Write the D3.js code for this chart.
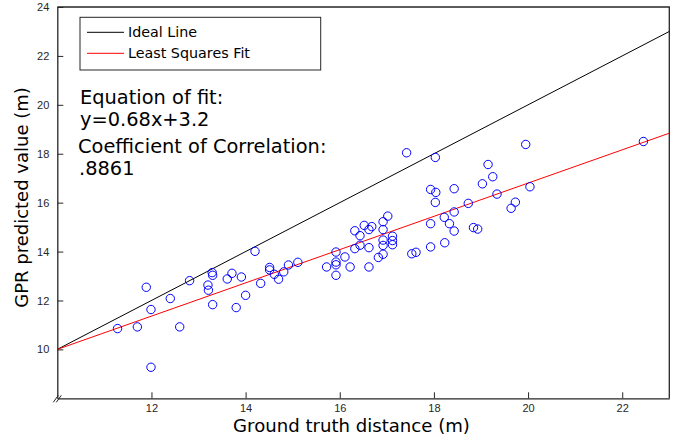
<!DOCTYPE html>
<html>
<head>
<meta charset="utf-8">
<script src="https://cdn.jsdelivr.net/npm/d3@7"></script>
<style>
  body { margin: 0; background: #fff; }
  svg { display: block; }
</style>
</head>
<body>
<svg id="chart" width="682" height="443"></svg>
<script>
// GPR predicted value vs ground truth distance

const groundTruth = [
  11.28, 11.70, 11.89, 11.99, 11.99, 12.40, 12.60, 12.81, 13.20, 13.21,
  13.29, 13.30, 13.30, 13.61, 13.71, 13.80, 13.91, 14.00, 14.20, 14.32,
  14.51, 14.51, 14.61, 14.70, 14.81, 14.91, 15.11, 15.72, 15.92, 15.92,
  15.92, 15.92, 16.11, 16.22, 16.32, 16.32, 16.43, 16.43, 16.52, 16.62,
  16.62, 16.62, 16.68, 16.82, 16.92, 16.92, 16.92, 16.92, 16.92, 17.02,
  17.12, 17.12, 17.12, 17.42, 17.53, 17.62, 17.93, 17.93, 17.93, 18.03,
  18.04, 18.03, 18.22, 18.23, 18.33, 18.43, 18.43, 18.43, 18.73, 18.84,
  18.93, 19.03, 19.15, 19.25, 19.34, 19.64, 19.73, 19.95, 20.04, 22.45
];
const gprPredicted = [
  10.85, 10.92, 12.54, 11.63, 9.27, 12.08, 10.92, 12.81, 12.63, 12.42,
  13.14, 13.03, 11.83, 12.88, 13.11, 11.71, 12.96, 12.21, 14.01, 12.70,
  13.35, 13.25, 13.07, 12.87, 13.17, 13.45, 13.56, 13.37, 13.98, 13.57,
  13.46, 13.03, 13.78, 13.37, 14.85, 14.12, 14.65, 14.26, 15.07, 14.90,
  14.16, 13.37, 15.02, 13.76, 13.89, 14.25, 14.47, 14.90, 15.22, 15.45,
  14.63, 14.45, 14.28, 18.04, 13.91, 13.97, 16.54, 15.14, 14.19, 17.85,
  16.42, 16.01, 15.40, 14.36, 15.14, 16.57, 15.62, 14.84, 15.97, 14.98,
  14.92, 16.77, 17.56, 17.06, 16.35, 15.77, 16.02, 18.38, 16.65, 18.50
];

const fitSlope = 0.68;
const fitIntercept = 3.2;
const xTicks = [12, 14, 16, 18, 20, 22];
const yTicks = [10, 12, 14, 16, 18, 20, 22, 24];
const legendLabels = ["Ideal Line", "Least Squares Fit"];
const legendColors = ["#000000", "#ff0000"];
const noteLines = ["Equation of fit:", "y=0.68x+3.2", "Coefficient of Correlation:", ".8861"];

const LEFT = 57.3, RIGHT = 669.3, TOP = 7, BOTTOM = 398.3;

const svg = d3.select("#chart");

let x = d3.scaleLinear().domain([10, 23]).range([LEFT, RIGHT]);
let y = d3.scaleLinear().domain([8, 24]).range([BOTTOM, TOP]);

// box (top + right borders)
svg.append("path")
  .attr("d", `M${LEFT},${TOP}H${RIGHT}V${BOTTOM}`)
  .attr("fill", "none")
  .attr("stroke", "#262626")
  .attr("stroke-width", 1.3);

// axes, ticks pointing inward
let xAxis = svg.append("g")
  .attr("transform", `translate(0,${BOTTOM})`)
  .call(d3.axisBottom(x).tickValues(xTicks).tickSize(-6).tickSizeOuter(0).tickPadding(6));
let yAxis = svg.append("g")
  .attr("transform", `translate(${LEFT},0)`)
  .call(d3.axisLeft(y).tickValues(yTicks).tickSize(-6).tickSizeOuter(0).tickPadding(8));

[xAxis, yAxis].forEach(function (g) {
  g.select(".domain").attr("stroke", "#262626").attr("stroke-width", 1.3);
  g.selectAll(".tick line").attr("stroke", "#262626");
  g.selectAll(".tick text")
    .attr("fill", "#262626")
    .style("font-family", "'Liberation Sans', Arial, sans-serif")
    .style("font-size", "11px");
});

// axis break mark at the origin
[0, 3].forEach(function (off) {
  svg.append("line")
    .attr("x1", LEFT - 4 + off).attr("y1", BOTTOM + 4)
    .attr("x2", LEFT + 1 + off).attr("y2", BOTTOM - 3)
    .attr("stroke", "#262626").attr("stroke-width", 1);
});

// ideal line y = x and least squares fit
let line = d3.line().x(d => x(d[0])).y(d => y(d[1]));
let ends = x.domain();
svg.append("path")
  .datum(ends.map(v => [v, v]))
  .attr("d", line)
  .attr("fill", "none")
  .attr("stroke", legendColors[0])
  .attr("stroke-width", 1);
svg.append("path")
  .datum(ends.map(v => [v, fitSlope * v + fitIntercept]))
  .attr("d", line)
  .attr("fill", "none")
  .attr("stroke", legendColors[1])
  .attr("stroke-width", 1);

// data points
svg.append("g")
  .selectAll("circle")
  .data(groundTruth.map((g, i) => [g, gprPredicted[i]]))
  .join("circle")
  .attr("cx", d => x(d[0]))
  .attr("cy", d => y(d[1]))
  .attr("r", 4.2)
  .attr("fill", "none")
  .attr("stroke", "#0000ff")
  .attr("stroke-width", 1);

// legend
let legend = svg.append("g");
legend.append("rect")
  .attr("x", 80).attr("y", 17.3)
  .attr("width", 240.7).attr("height", 52.7)
  .attr("fill", "#fff")
  .attr("stroke", "#262626")
  .attr("stroke-width", 1);
legendLabels.forEach(function (label, i) {
  let ly = 32.3 + i * 21;
  legend.append("line")
    .attr("x1", 87).attr("x2", 124)
    .attr("y1", ly).attr("y2", ly)
    .attr("stroke", legendColors[i]);
  legend.append("text")
    .attr("x", 128).attr("y", ly + 5)
    .attr("fill", "#000")
    .style("font-family", "'DejaVu Sans', Verdana, sans-serif")
    .style("font-size", "14.3px")
    .text(label);
});

// annotation text
const noteX = [80, 80, 78, 79];
const noteY = [104, 125.7, 153.3, 175];
noteLines.forEach(function (t, i) {
  svg.append("text")
    .attr("x", noteX[i]).attr("y", noteY[i])
    .attr("fill", "#000")
    .style("font-family", "'DejaVu Sans', Verdana, sans-serif")
    .style("font-size", "19.4px")
    .text(t);
});

// axis titles
svg.append("text")
  .attr("x", 351.5).attr("y", 432)
  .attr("text-anchor", "middle")
  .attr("fill", "#000")
  .style("font-family", "'DejaVu Sans', Verdana, sans-serif")
  .style("font-size", "18.1px")
  .text("Ground truth distance (m)");
svg.append("text")
  .attr("transform", "translate(28,197.5) rotate(-90)")
  .attr("text-anchor", "middle")
  .attr("fill", "#000")
  .style("font-family", "'DejaVu Sans', Verdana, sans-serif")
  .style("font-size", "18px")
  .text("GPR predicted value (m)");
</script>
</body>
</html>
